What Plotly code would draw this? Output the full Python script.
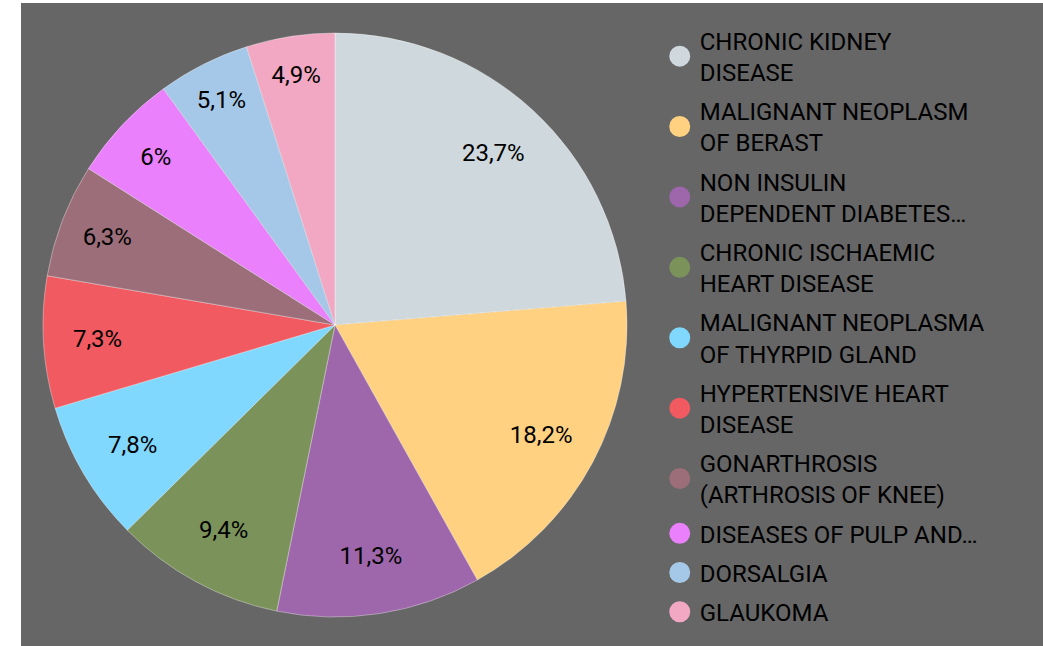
import plotly.graph_objects as go

categories = [
    "CHRONIC KIDNEY<br>DISEASE",
    "MALIGNANT NEOPLASM<br>OF BERAST",
    "NON INSULIN<br>DEPENDENT DIABETES…",
    "CHRONIC ISCHAEMIC<br>HEART DISEASE",
    "MALIGNANT NEOPLASMA<br>OF THYRPID GLAND",
    "HYPERTENSIVE HEART<br>DISEASE",
    "GONARTHROSIS<br>(ARTHROSIS OF KNEE)",
    "DISEASES OF PULP AND…",
    "DORSALGIA",
    "GLAUKOMA",
]
values = [23.7, 18.2, 11.3, 9.4, 7.8, 7.3, 6.3, 6, 5.1, 4.9]
colors = ["#CFD8DC", "#FFD180", "#9E66AB", "#7B935A", "#80D8FF",
          "#F25A62", "#9B6E7A", "#EA80FC", "#A6C8E8", "#F2A8C2"]

value_text = [("%g" % v).replace(".", ",") + "%" for v in values]

pie_domain = dict(x=[0.0215, 0.593], y=[0.0451, 0.9533])

fig = go.Figure()
# filled pie (no text)
fig.add_trace(go.Pie(
    labels=categories,
    values=values,
    textinfo="none",
    sort=False,
    direction="clockwise",
    marker=dict(colors=colors, line=dict(color="rgba(255,255,255,0.6)", width=0.6)),
    showlegend=False,
    hoverinfo="label+percent",
    domain=pie_domain,
))
# transparent ring carrying the value labels further out
fig.add_trace(go.Pie(
    labels=categories,
    values=values,
    hole=0.6,
    text=value_text,
    texttemplate="%{text}",
    textposition="inside",
    insidetextorientation="horizontal",
    sort=False,
    direction="clockwise",
    marker=dict(colors=["rgba(0,0,0,0)"] * len(values), line=dict(width=0)),
    textfont=dict(family="Roboto", size=24, color="#000000"),
    showlegend=False,
    hoverinfo="skip",
    domain=pie_domain,
))

for name, c in zip(categories, colors):
    fig.add_trace(go.Scatter(
        x=[None], y=[None], mode="markers", name=name,
        marker=dict(symbol="circle", size=16, color=c, line=dict(color=c, width=5)),
        legendgroup=name, showlegend=True,
    ))

fig.update_layout(
    width=1043, height=646,
    margin=dict(l=21, r=0, t=3, b=0),
    paper_bgcolor="#FFFFFF",
    plot_bgcolor="#666666",
    xaxis=dict(visible=False),
    yaxis=dict(visible=False),
    legend=dict(
        x=0.625, y=0.976, xanchor="left", yanchor="top",
        font=dict(family="Roboto", size=24, color="#000000"),
        bgcolor="rgba(0,0,0,0)",
        itemsizing="trace",
        tracegroupgap=5,
    ),
)

fig.write_html("out.html", config={"displayModeBar": False},
               post_script="document.body.style.margin='0px';")
